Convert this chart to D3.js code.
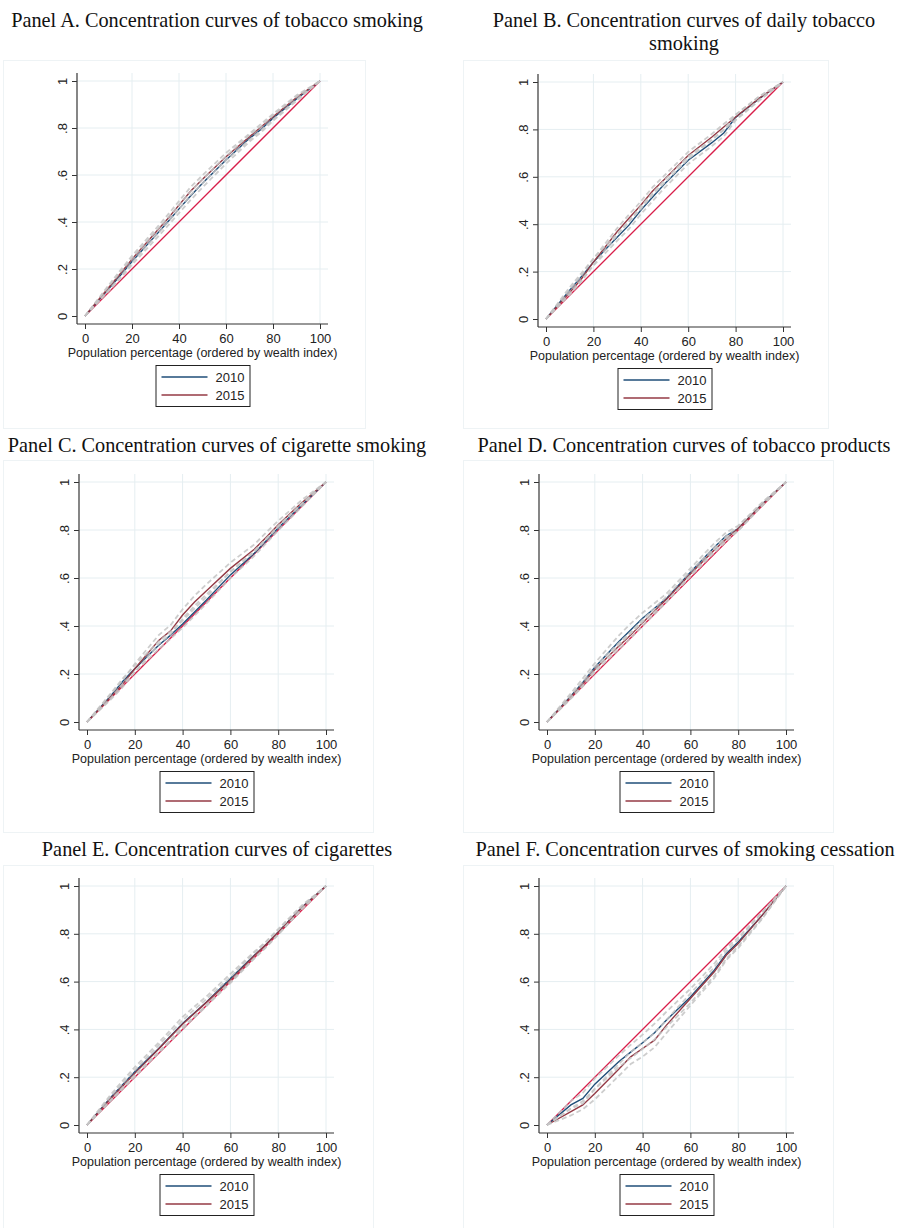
<!DOCTYPE html>
<html>
<head>
<meta charset="utf-8">
<script src="https://cdn.jsdelivr.net/npm/d3@7/dist/d3.min.js"></script>
<style>
  body { margin: 0; background: #fff; }
  svg { display: block; }
</style>
</head>
<body>
<svg id="chart" width="897" height="1228"></svg>
<script>
// population share (ordered by wealth index), shared by every curve
var popShare = [0, 10, 15, 20, 30, 35, 40, 45, 50, 60, 70, 75, 80, 90, 100];

var xTicks = [0, 20, 40, 60, 80, 100];
var yTicks = [0, 0.2, 0.4, 0.6, 0.8, 1];
var yTickLabels = ["0", ".2", ".4", ".6", ".8", "1"];
var years = ["2010", "2015"];
var xTitle = "Population percentage (ordered by wealth index)";

var panelTitles = [
  ["Panel A. Concentration curves of tobacco smoking"],
  ["Panel B. Concentration curves of daily tobacco", "smoking"],
  ["Panel C. Concentration curves of cigarette smoking"],
  ["Panel D. Concentration curves of tobacco products"],
  ["Panel E. Concentration curves of cigarettes"],
  ["Panel F. Concentration curves of smoking cessation"]
];

// Panel A: tobacco smoking
var smoking2010 = [0, .115, .172, .232, .342, .398, .456, .512, .565, .664, .756, .795, .842, .924, 1];
var smoking2015 = [0, .120, .180, .242, .355, .412, .472, .532, .582, .678, .763, .805, .848, .930, 1];
var smoking2010Lo = [0, .105, .158, .218, .326, .381, .438, .494, .547, .648, .742, .782, .830, .915, 1];
var smoking2010Hi = [0, .125, .186, .246, .358, .415, .474, .530, .583, .680, .770, .808, .854, .933, 1];
var smoking2015Lo = [0, .110, .166, .228, .340, .396, .455, .515, .565, .662, .750, .792, .836, .921, 1];
var smoking2015Hi = [0, .130, .194, .256, .370, .428, .489, .549, .599, .694, .776, .818, .860, .939, 1];

// Panel B: daily tobacco smoking
var daily2010 = [0, .122, .180, .240, .345, .396, .459, .515, .570, .670, .744, .785, .850, .930, 1];
var daily2015 = [0, .112, .170, .240, .368, .425, .480, .540, .590, .690, .768, .810, .852, .932, 1];
var daily2010Lo = [0, .110, .166, .225, .330, .380, .442, .498, .553, .654, .730, .770, .838, .922, 1];
var daily2010Hi = [0, .134, .194, .255, .360, .412, .476, .532, .587, .686, .758, .800, .862, .938, 1];
var daily2015Lo = [0, .102, .158, .228, .353, .410, .464, .524, .574, .675, .755, .797, .842, .925, 1];
var daily2015Hi = [0, .124, .184, .254, .383, .440, .496, .556, .606, .705, .781, .823, .862, .940, 1];

// Panel C: cigarette smoking
var cigSmoking2010 = [0, .110, .170, .222, .320, .362, .408, .458, .508, .613, .703, .755, .808, .905, 1];
var cigSmoking2015 = [0, .104, .158, .222, .340, .380, .446, .500, .547, .640, .720, .770, .822, .915, 1];
var cigSmoking2010Lo = [0, .100, .158, .208, .304, .347, .393, .443, .494, .600, .692, .745, .798, .898, 1];
var cigSmoking2010Hi = [0, .120, .182, .236, .336, .377, .423, .473, .522, .626, .714, .765, .818, .912, 1];
var cigSmoking2015Lo = [0, .094, .146, .208, .325, .365, .430, .484, .532, .626, .708, .760, .812, .908, 1];
var cigSmoking2015Hi = [0, .116, .175, .242, .362, .404, .470, .526, .574, .664, .740, .790, .838, .926, 1];

// Panel D: tobacco products
var products2010 = [0, .108, .165, .228, .334, .383, .432, .474, .515, .624, .728, .776, .806, .908, 1];
var products2015 = [0, .104, .158, .219, .316, .362, .414, .462, .511, .617, .717, .763, .806, .906, 1];
var products2010Lo = [0, .100, .154, .216, .320, .368, .417, .460, .502, .612, .716, .764, .797, .902, 1];
var products2010Hi = [0, .120, .182, .245, .360, .410, .455, .495, .535, .640, .745, .790, .818, .915, 1];
var products2015Lo = [0, .097, .148, .207, .303, .349, .401, .450, .500, .606, .706, .752, .797, .900, 1];
var products2015Hi = [0, .111, .168, .231, .329, .375, .427, .474, .522, .628, .728, .774, .815, .912, 1];

// Panel E: cigarettes
var cigarettes2010 = [0, .116, .170, .223, .320, .372, .425, .470, .515, .613, .710, .756, .808, .912, 1];
var cigarettes2015 = [0, .111, .163, .216, .318, .370, .422, .468, .513, .606, .708, .756, .806, .910, 1];
var cigarettes2010Lo = [0, .106, .158, .210, .306, .357, .410, .456, .502, .600, .698, .745, .798, .905, 1];
var cigarettes2010Hi = [0, .128, .186, .242, .345, .398, .452, .496, .538, .632, .725, .768, .820, .920, 1];
var cigarettes2015Lo = [0, .101, .151, .202, .302, .350, .400, .450, .498, .594, .696, .744, .796, .904, 1];
var cigarettes2015Hi = [0, .121, .175, .230, .334, .386, .438, .484, .527, .619, .720, .767, .816, .916, 1];

// Panel F: smoking cessation
var cessation2010 = [0, .084, .111, .171, .265, .305, .344, .386, .439, .536, .648, .717, .766, .877, 1];
var cessation2015 = [0, .056, .084, .132, .233, .285, .320, .355, .418, .529, .641, .710, .759, .877, 1];
var cessation2010Lo = [0, .068, .090, .150, .242, .280, .318, .358, .410, .510, .625, .695, .748, .865, 1];
var cessation2010Hi = [0, .100, .135, .195, .290, .335, .378, .424, .474, .570, .675, .740, .785, .890, 1];
var cessation2015Lo = [0, .040, .066, .107, .205, .255, .286, .325, .385, .500, .615, .690, .740, .862, 1];
var cessation2015Hi = [0, .070, .100, .152, .255, .305, .345, .385, .440, .550, .660, .727, .775, .888, 1];

var panelSeries = [
  { curves: [smoking2010, smoking2015], bands: [smoking2010Lo, smoking2010Hi, smoking2015Lo, smoking2015Hi] },
  { curves: [daily2010, daily2015], bands: [daily2010Lo, daily2010Hi, daily2015Lo, daily2015Hi] },
  { curves: [cigSmoking2010, cigSmoking2015], bands: [cigSmoking2010Lo, cigSmoking2010Hi, cigSmoking2015Lo, cigSmoking2015Hi] },
  { curves: [products2010, products2015], bands: [products2010Lo, products2010Hi, products2015Lo, products2015Hi] },
  { curves: [cigarettes2010, cigarettes2015], bands: [cigarettes2010Lo, cigarettes2010Hi, cigarettes2015Lo, cigarettes2015Hi] },
  { curves: [cessation2010, cessation2015], bands: [cessation2010Lo, cessation2010Hi, cessation2015Lo, cessation2015Hi] }
];

// layout of each small graph (pixel positions of the plot region and its frame)
var layout = [
  { x0: 85,  w: 235, top: 81,  h: 235, frame: [3, 60, 362, 368],   titleX: 217, titleY: 27 },
  { x0: 546, w: 237, top: 82,  h: 237, frame: [463, 60, 365, 368], titleX: 684, titleY: 27 },
  { x0: 87,  w: 239, top: 482, h: 240, frame: [3, 460, 370, 372],  titleX: 217, titleY: 452 },
  { x0: 547, w: 239, top: 482, h: 240, frame: [463, 460, 370, 372], titleX: 684, titleY: 452 },
  { x0: 87,  w: 239, top: 886, h: 239, frame: [3, 865, 370, 370],  titleX: 217, titleY: 856 },
  { x0: 547, w: 239, top: 886, h: 239, frame: [463, 865, 370, 370], titleX: 685, titleY: 856 }
];

var colors = { c2010: "#1f4e79", c2015: "#943a45", equal: "#d81e4a", band: "#c4c4c4", grid: "#e5eef1" };
var sans = "'Liberation Sans', Arial, sans-serif";
var serif = "'Liberation Serif', 'Times New Roman', serif";

var svg = d3.select("#chart");

panelSeries.forEach(function(p, i) {
  var L = layout[i];
  var g = svg.append("g");

  // graph region frame
  g.append("rect")
    .attr("x", L.frame[0] + 0.5).attr("y", L.frame[1] + 0.5)
    .attr("width", L.frame[2]).attr("height", L.frame[3])
    .attr("fill", "none").attr("stroke", "#eef3f5");

  // title
  var t = g.append("text")
    .attr("x", L.titleX).attr("y", L.titleY)
    .attr("text-anchor", "middle")
    .style("font-family", serif).style("font-size", "20.3px").attr("fill", "#111");
  panelTitles[i].forEach(function(line, k) {
    t.append("tspan").attr("x", L.titleX).attr("dy", k === 0 ? 0 : 23).text(line);
  });

  var x = d3.scaleLinear().domain([0, 100]).range([L.x0, L.x0 + L.w]);
  var y = d3.scaleLinear().domain([0, 1]).range([L.top + L.h, L.top]);
  var axisX = L.x0 - 8, axisY = L.top + L.h + 8;
  var right = L.x0 + L.w + 8, topEdge = L.top - 8;

  // grid
  g.selectAll(".vgrid").data(xTicks.slice(1)).enter().append("line")
    .attr("x1", function(d) { return x(d); }).attr("x2", function(d) { return x(d); })
    .attr("y1", topEdge).attr("y2", axisY)
    .attr("stroke", colors.grid).attr("stroke-width", 1);
  g.selectAll(".hgrid").data(yTicks.slice(1)).enter().append("line")
    .attr("x1", axisX).attr("x2", right)
    .attr("y1", function(d) { return y(d); }).attr("y2", function(d) { return y(d); })
    .attr("stroke", colors.grid).attr("stroke-width", 1);

  var line = d3.line()
    .x(function(d) { return x(d[0]); })
    .y(function(d) { return y(d[1]); });

  // line of equality
  g.append("path")
    .datum([[0, 0], [100, 1]])
    .attr("d", line).attr("fill", "none")
    .attr("stroke", colors.equal).attr("stroke-width", 1.3);

  // concentration curves
  p.curves.forEach(function(vals, k) {
    g.append("path")
      .datum(d3.zip(popShare, vals))
      .attr("d", line).attr("fill", "none")
      .attr("stroke", k === 0 ? colors.c2010 : colors.c2015)
      .attr("stroke-width", 1.4);
  });

  // confidence bands
  p.bands.forEach(function(vals) {
    g.append("path")
      .datum(d3.zip(popShare, vals))
      .attr("d", line).attr("fill", "none")
      .attr("stroke", colors.band).attr("stroke-width", 1.8)
      .attr("stroke-dasharray", "5,3").attr("opacity", 0.85);
  });

  // axes
  var yAxis = d3.axisLeft(y).tickValues(yTicks).tickSize(5)
    .tickFormat(function(d, k) { return yTickLabels[k]; });
  var ya = g.append("g").attr("transform", "translate(" + axisX + ",0)").call(yAxis);
  ya.select(".domain").remove();
  ya.selectAll("text")
    .attr("transform", "rotate(-90)")
    .attr("x", 0).attr("y", -10).attr("dy", 0)
    .style("text-anchor", "middle")
    .style("font-family", sans).style("font-size", "13px").attr("fill", "#222");

  var xAxis = d3.axisBottom(x).tickValues(xTicks).tickSize(5);
  var xa = g.append("g").attr("transform", "translate(0," + axisY + ")").call(xAxis);
  xa.select(".domain").remove();
  xa.selectAll("text").attr("y", 10)
    .style("font-family", sans).style("font-size", "13px").attr("fill", "#222");
  g.selectAll(".tick line").attr("stroke", "#333");

  g.append("line").attr("x1", axisX).attr("x2", axisX)
    .attr("y1", topEdge).attr("y2", axisY).attr("stroke", "#444").attr("stroke-width", 1.3);
  g.append("line").attr("x1", axisX).attr("x2", right)
    .attr("y1", axisY).attr("y2", axisY).attr("stroke", "#333").attr("stroke-width", 1.1);

  g.append("text")
    .attr("x", (x(0) + x(100)) / 2).attr("y", axisY + 33)
    .attr("text-anchor", "middle")
    .style("font-family", sans).style("font-size", "12.5px").attr("fill", "#222")
    .text(xTitle);

  // legend
  var lx = (x(0) + x(100)) / 2 - 47, ly = axisY + 41;
  var lg = g.append("g").attr("transform", "translate(" + lx + "," + ly + ")");
  lg.append("rect").attr("x", 0.5).attr("y", 0.5).attr("width", 94).attr("height", 41)
    .attr("fill", "#fff").attr("stroke", "#222");
  years.forEach(function(yr, k) {
    lg.append("line").attr("x1", 6).attr("x2", 52)
      .attr("y1", 12 + k * 18).attr("y2", 12 + k * 18)
      .attr("stroke", k === 0 ? colors.c2010 : colors.c2015).attr("stroke-width", 1.4);
    lg.append("text").attr("x", 60).attr("y", 16.5 + k * 18)
      .style("font-family", sans).style("font-size", "13px").attr("fill", "#222")
      .text(yr);
  });
});
</script>
</body>
</html>
